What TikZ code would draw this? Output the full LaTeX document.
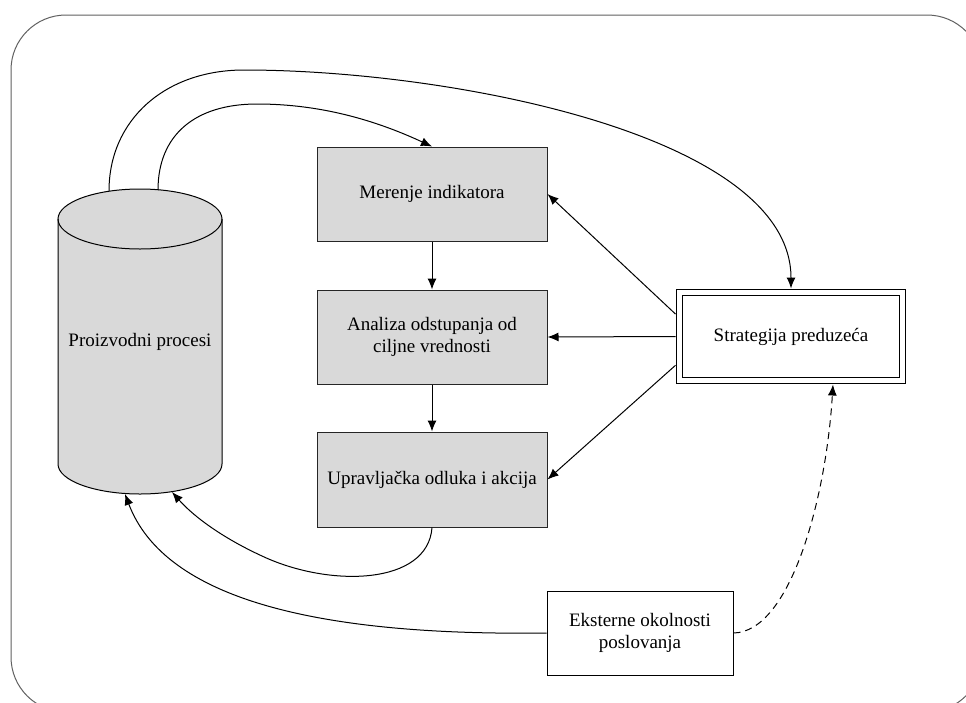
\documentclass[tikz,border=0pt]{standalone}
\usepackage{fontspec}
\setmainfont{Liberation Serif}
\usetikzlibrary{arrows.meta,calc}
\definecolor{boxgray}{HTML}{D9D9D9}
\definecolor{framegray}{HTML}{606060}
\begin{document}
\begin{tikzpicture}[x=1pt,y=-1pt,
  every node/.style={font=\fontsize{19}{22}\selectfont},
  stepbox/.style={draw=black!85, line width=1pt, fill=boxgray, minimum width=230pt,
    minimum height=94pt, align=center, inner sep=0pt},
  plainbox/.style={draw=black, line width=1pt, fill=white, align=center, inner sep=0pt},
  doublebox/.style={draw=black, line width=1pt, double, double distance=5pt, fill=white,
    minimum width=223pt, minimum height=88pt, outer sep=4pt, align=center, inner sep=0pt},
  flow/.style={draw=black, line width=1pt, -{Latex[length=11pt,width=9pt]}},
  cylline/.style={draw=black, line width=1pt},
]
\clip (0,0) rectangle (966,702);

% outer frame
\draw[framegray, line width=1pt, rounded corners=55pt] (11,15) rectangle (982,712);

% cylinder: production processes
\path[fill=boxgray] (58,219) -- (58,464)
  arc[start angle=180, end angle=360, x radius=82pt, y radius=30pt] -- (222,219)
  arc[start angle=0, end angle=180, x radius=82pt, y radius=30pt] -- cycle;
\draw[cylline] (58,219) -- (58,464)
  arc[start angle=180, end angle=360, x radius=82pt, y radius=30pt] -- (222,219);
\draw[cylline] (140,219) ellipse[x radius=82pt, y radius=30pt];
\node (proc) at (140,342) {Proizvodni procesi};
\coordinate (procTopOut) at (109,191);
\coordinate (procTopIn) at (158,190);
\coordinate (procBotIn) at (172,492);
\coordinate (procBotOut) at (125,494);

% control loop steps
\node[stepbox] (meas) at (432,194) {Merenje indikatora};
\node[stepbox] (anal) at (432,337) {Analiza odstupanja od\\ciljne vrednosti};
\node[stepbox, minimum height=95pt] (ctrl) at (432,479.5) {Upravljačka odluka i akcija};

% strategy and environment
\node[doublebox] (strat) at (791,336.5) {Strategija preduzeća};
\node[plainbox, minimum width=186pt, minimum height=84pt] (ext) at (640,633)
  {Eksterne okolnosti\\poslovanja};

% connectors
\draw[flow] (procTopOut) .. controls (109,120) and (165,70) .. (244,70)
  .. controls (450,70) and (791,135) .. (strat.north);
\draw[flow] (procTopIn) .. controls (158,135) and (195,104) .. (257,104)
  .. controls (320,104) and (375,120) .. (meas.north);
\draw[flow] (meas.south) -- (anal.north);
\draw[flow] (anal.south) -- (ctrl.north);
\draw[flow] (strat.169) -- (meas.east);
\draw[flow] (strat.west) -- (anal.east);
\draw[flow] (strat.194) -- (ctrl.east);
\draw[flow] (ctrl.south) .. controls (428,585) and (330,588) .. (262,556)
  .. controls (225,539) and (195,518) .. (procBotIn);
\draw[flow] (ext.west) .. controls (320,636) and (165,600) .. (procBotOut);
\draw[flow, dash pattern=on 7pt off 5pt] (ext.east) .. controls (790,632) and (826,500)
  .. ([xshift=42pt]strat.south);
\end{tikzpicture}
\end{document}
